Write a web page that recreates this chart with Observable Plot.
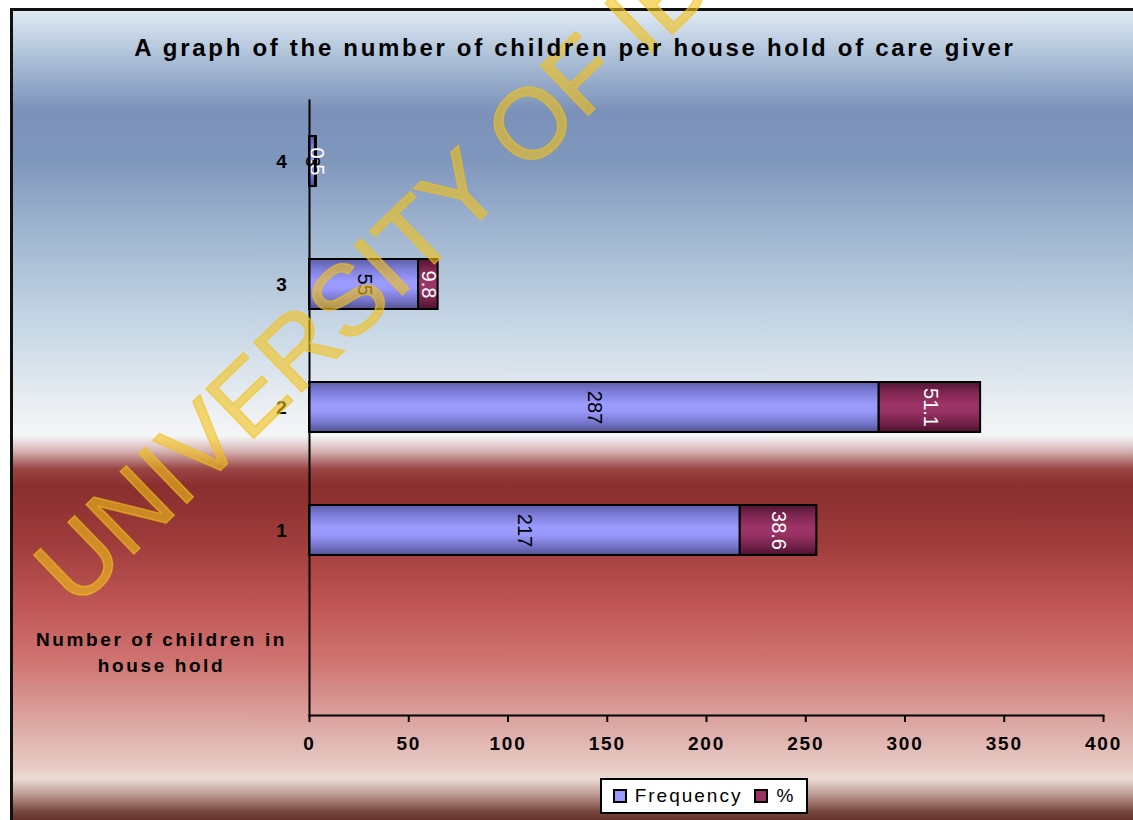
<!DOCTYPE html>
<html>
<head>
<meta charset="utf-8">
<script src="https://cdn.jsdelivr.net/npm/d3@7"></script>
<script src="https://cdn.jsdelivr.net/npm/@observablehq/plot@0.6"></script>
<style>
  html, body { margin: 0; padding: 0; background: #fff; }
  #page { position: relative; width: 1133px; height: 820px; overflow: hidden; font-family: "Liberation Sans", Arial, sans-serif; }
  #frame { position: absolute; left: 10px; top: 8px; width: 1130px; height: 820px; box-sizing: border-box;
    border-left: 3px solid #111; border-top: 3px solid #111;
    background: linear-gradient(to bottom,
      #dfe9f3 0px, #a9bdd6 50px, #7b91b9 100px, #8097bd 150px, #a3b9d2 230px, #c9d8e6 320px,
      #eef1f4 405px, #f4f5f7 425px, #d6b3b3 440px, #9a4444 458px, #8a2e2e 475px,
      #9e3c3b 530px, #c05756 595px, #cf7471 650px, #daa19d 705px, #e8cac4 755px, #ecdbd5 768px,
      #b8948c 785px, #7a4a42 800px, #5a2820 812px); }
  #title { position: absolute; left: 10px; width: 1130px; top: 34px; text-align: center; font-weight: bold; font-size: 24px; letter-spacing: 2.7px; color: #000; }
  #chart { position: absolute; left: 0; top: 80px; }
  #legend { position: absolute; left: 600px; top: 778px; width: 208px; height: 36px; box-sizing: border-box;
    background: #fff; border: 2px solid #000; display: flex; align-items: center; justify-content: center;
    font-size: 19px; letter-spacing: 2px; color: #000; gap: 0; }
  .sw { display: inline-block; width: 10px; height: 10px; border: 2px solid #000; margin: 0 8px 0 0; }
  #wm { position: absolute; left: 0; top: 0; pointer-events: none; }
</style>
</head>
<body>
<div id="page">
  <div id="frame"></div>
  <div id="chart"></div>
  <svg id="wm" width="1133" height="820">
    <text x="76" y="610" transform="rotate(-44 76 610)" font-family="Liberation Sans, Arial, sans-serif" font-size="100" fill="#f2c21a" fill-opacity="0.6" stroke="#f2c21a" stroke-opacity="0.6" stroke-width="1.5">UNIVERSITY OF IBADAN</text>
  </svg>
  <div id="title">A graph of the number of children per house hold of care giver</div>
  <div id="legend"><span class="sw" style="background:#9999ff"></span><span>Frequency</span><span style="width:12px"></span><span class="sw" style="background:#993366"></span><span>%</span></div>
</div>
<script>
// Data
const categories = ["4", "3", "2", "1"];
const axisTitle = "Number of children in house hold";
const frequency = [3, 55, 287, 217];     // for categories 4,3,2,1
const percent = [0.5, 9.8, 51.1, 38.6];
const seriesNames = ["Frequency", "%"];
const xTicks = [0, 50, 100, 150, 200, 250, 300, 350, 400];

const fills = {"Frequency": "url(#gFreq)", "%": "url(#gPct)"};
const labelColors = {"Frequency": "#000", "%": "#fff"};

const rows = [];
categories.forEach((c, i) => {
  rows.push({cat: c, series: seriesNames[0], value: frequency[i]});
  rows.push({cat: c, series: seriesNames[1], value: percent[i]});
});

const chart = Plot.plot({
  width: 1133,
  height: 690,
  marginLeft: 309,
  marginRight: 30,
  marginTop: 20,
  marginBottom: 55,
  style: {background: "transparent", fontFamily: "Liberation Sans, Arial, sans-serif", fontSize: "18px", fontWeight: "bold", color: "#000", overflow: "visible"},
  x: {domain: [0, 400]},
  y: {domain: [...categories, axisTitle], paddingInner: 0.59, paddingOuter: 0.295},
  color: {type: "identity"},
  marks: [
    Plot.barX(rows, Plot.stackX({x: "value", y: "cat", z: "series", fill: d => fills[d.series], stroke: "#000", strokeWidth: 2})),
    Plot.text(rows, Plot.stackX({x: "value", y: "cat", z: "series", text: d => String(d.value), rotate: 90,
      fill: d => labelColors[d.series], fontSize: 20, fontWeight: "normal"})),
    Plot.frame({anchor: "left", stroke: "#000", strokeWidth: 2}),
    Plot.frame({anchor: "bottom", stroke: "#000", strokeWidth: 2}),
    Plot.axisX(xTicks, {tickSize: 7, strokeWidth: 2, tickPadding: 14, fontSize: 19, fontWeight: "bold", label: null}),
    Plot.axisY(categories, {tickSize: 0, tickPadding: 20, fontSize: 19, fontWeight: "bold", label: null}),
    Plot.axisY([axisTitle], {tickSize: 0, tickPadding: 3, dx: -145, dy: -3, textAnchor: "middle", lineHeight: 1.38,
      fontSize: 19, fontWeight: "bold", label: null, tickFormat: () => "Number of children in\nhouse hold"})
  ]
});

// letter spacing to mimic the wide source rendering
d3.select(chart).selectAll("g[aria-label='x-axis tick label'] text").attr("letter-spacing", "1.8px");
d3.select(chart).selectAll("g[aria-label='y-axis tick label'] text").attr("letter-spacing", "2.6px");

const defs = d3.select(chart).insert("defs", ":first-child");
const g1 = defs.append("linearGradient").attr("id", "gFreq").attr("x1", 0).attr("y1", 0).attr("x2", 0).attr("y2", 1);
[["0%", "#5d5da8"], ["18%", "#7a7ad6"], ["45%", "#9c9cff"], ["60%", "#9898fa"], ["85%", "#7070c4"], ["100%", "#52528c"]]
  .forEach(([o, c]) => g1.append("stop").attr("offset", o).attr("stop-color", c));
const g2 = defs.append("linearGradient").attr("id", "gPct").attr("x1", 0).attr("y1", 0).attr("x2", 0).attr("y2", 1);
[["0%", "#4e1532"], ["20%", "#7d2650"], ["45%", "#9c3468"], ["60%", "#983264"], ["85%", "#6e1f45"], ["100%", "#4a1230"]]
  .forEach(([o, c]) => g2.append("stop").attr("offset", o).attr("stop-color", c));

document.getElementById("chart").appendChild(chart);
</script>
</body>
</html>
